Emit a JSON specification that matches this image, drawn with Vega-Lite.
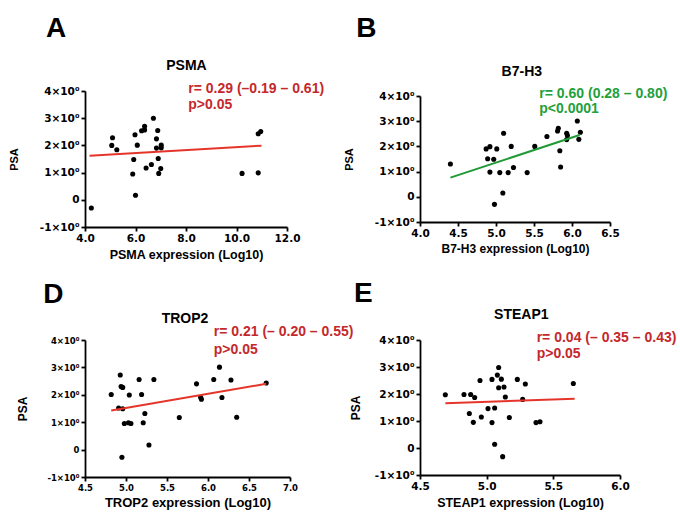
{
  "$schema": "https://vega.github.io/schema/vega-lite/v6.json",
  "padding": {"left": 8, "top": 14, "right": 5, "bottom": 5},
  "background": "white",
  "config": {
    "font": "Liberation Sans",
    "view": {"stroke": null},
    "axis": {
      "grid": false,
      "domainColor": "black",
      "domainWidth": 1.8,
      "tickColor": "black",
      "tickWidth": 1.8,
      "tickSize": 4,
      "labelColor": "black",
      "labelFont": "DejaVu Sans",
      "labelFontWeight": "bold",
      "labelFontSize": 10.5,
      "labelPadding": 2,
      "labelFlush": false,
      "labelOverlap": false,
      "titleColor": "black",
      "titleFontWeight": "bold",
      "titleFontSize": 12.5
    },
    "axisY": {"titleFontSize": 11, "titlePadding": 20},
    "axisX": {"titlePadding": 5}
  },
  "datasets": {
    "points": [
      {"panel": "A", "expr": 4.25, "psa": -0.30},
      {"panel": "A", "expr": 5.09, "psa": 2.28},
      {"panel": "A", "expr": 5.06, "psa": 2.00},
      {"panel": "A", "expr": 5.26, "psa": 1.84},
      {"panel": "A", "expr": 5.89, "psa": 0.95},
      {"panel": "A", "expr": 5.93, "psa": 1.48},
      {"panel": "A", "expr": 6.00, "psa": 0.17},
      {"panel": "A", "expr": 5.98, "psa": 2.39},
      {"panel": "A", "expr": 6.07, "psa": 2.01},
      {"panel": "A", "expr": 6.24, "psa": 2.54},
      {"panel": "A", "expr": 6.36, "psa": 2.57},
      {"panel": "A", "expr": 6.36, "psa": 2.70},
      {"panel": "A", "expr": 6.42, "psa": 1.17},
      {"panel": "A", "expr": 6.63, "psa": 1.30},
      {"panel": "A", "expr": 6.71, "psa": 3.00},
      {"panel": "A", "expr": 6.88, "psa": 2.55},
      {"panel": "A", "expr": 6.83, "psa": 2.24},
      {"panel": "A", "expr": 6.83, "psa": 1.90},
      {"panel": "A", "expr": 6.90, "psa": 1.52},
      {"panel": "A", "expr": 6.92, "psa": 0.97},
      {"panel": "A", "expr": 7.02, "psa": 1.91},
      {"panel": "A", "expr": 7.02, "psa": 2.01},
      {"panel": "A", "expr": 7.00, "psa": 1.15},
      {"panel": "A", "expr": 10.22, "psa": 0.97},
      {"panel": "A", "expr": 10.86, "psa": 0.99},
      {"panel": "A", "expr": 10.86, "psa": 2.43},
      {"panel": "A", "expr": 10.96, "psa": 2.51},
      {"panel": "B", "expr": 4.40, "psa": 1.30},
      {"panel": "B", "expr": 4.87, "psa": 1.90},
      {"panel": "B", "expr": 4.92, "psa": 1.99},
      {"panel": "B", "expr": 4.89, "psa": 1.51},
      {"panel": "B", "expr": 4.97, "psa": 1.49},
      {"panel": "B", "expr": 4.92, "psa": 0.98},
      {"panel": "B", "expr": 5.01, "psa": 1.90},
      {"panel": "B", "expr": 5.10, "psa": 2.52},
      {"panel": "B", "expr": 4.98, "psa": -0.30},
      {"panel": "B", "expr": 5.09, "psa": 0.15},
      {"panel": "B", "expr": 5.05, "psa": 0.96},
      {"panel": "B", "expr": 5.16, "psa": 0.96},
      {"panel": "B", "expr": 5.20, "psa": 2.00},
      {"panel": "B", "expr": 5.23, "psa": 1.16},
      {"panel": "B", "expr": 5.41, "psa": 0.96},
      {"panel": "B", "expr": 5.51, "psa": 2.00},
      {"panel": "B", "expr": 5.67, "psa": 2.39},
      {"panel": "B", "expr": 5.81, "psa": 2.61},
      {"panel": "B", "expr": 5.82, "psa": 2.72},
      {"panel": "B", "expr": 5.84, "psa": 1.83},
      {"panel": "B", "expr": 5.85, "psa": 1.18},
      {"panel": "B", "expr": 5.93, "psa": 2.52},
      {"panel": "B", "expr": 5.94, "psa": 2.43},
      {"panel": "B", "expr": 5.93, "psa": 2.27},
      {"panel": "B", "expr": 6.07, "psa": 3.01},
      {"panel": "B", "expr": 6.09, "psa": 2.28},
      {"panel": "B", "expr": 6.11, "psa": 2.56},
      {"panel": "D", "expr": 4.82, "psa": 2.01},
      {"panel": "D", "expr": 4.91, "psa": 1.52},
      {"panel": "D", "expr": 4.93, "psa": 2.72},
      {"panel": "D", "expr": 4.94, "psa": 2.30},
      {"panel": "D", "expr": 4.96, "psa": 2.27},
      {"panel": "D", "expr": 4.96, "psa": 1.49},
      {"panel": "D", "expr": 4.95, "psa": -0.28},
      {"panel": "D", "expr": 4.98, "psa": 0.95},
      {"panel": "D", "expr": 5.03, "psa": 0.98},
      {"panel": "D", "expr": 5.06, "psa": 0.95},
      {"panel": "D", "expr": 5.04, "psa": 1.99},
      {"panel": "D", "expr": 5.16, "psa": 2.56},
      {"panel": "D", "expr": 5.19, "psa": 2.01},
      {"panel": "D", "expr": 5.21, "psa": 0.98},
      {"panel": "D", "expr": 5.23, "psa": 1.32},
      {"panel": "D", "expr": 5.28, "psa": 0.17},
      {"panel": "D", "expr": 5.34, "psa": 2.56},
      {"panel": "D", "expr": 5.65, "psa": 1.17},
      {"panel": "D", "expr": 5.86, "psa": 2.40},
      {"panel": "D", "expr": 5.91, "psa": 1.91},
      {"panel": "D", "expr": 5.92, "psa": 1.84},
      {"panel": "D", "expr": 6.07, "psa": 2.56},
      {"panel": "D", "expr": 6.14, "psa": 3.01},
      {"panel": "D", "expr": 6.17, "psa": 1.90},
      {"panel": "D", "expr": 6.28, "psa": 2.54},
      {"panel": "D", "expr": 6.35, "psa": 1.18},
      {"panel": "D", "expr": 6.71, "psa": 2.43},
      {"panel": "E", "expr": 4.69, "psa": 1.97},
      {"panel": "E", "expr": 4.83, "psa": 1.98},
      {"panel": "E", "expr": 4.88, "psa": 1.98},
      {"panel": "E", "expr": 4.91, "psa": 1.87},
      {"panel": "E", "expr": 4.87, "psa": 1.28},
      {"panel": "E", "expr": 4.90, "psa": 0.95},
      {"panel": "E", "expr": 4.95, "psa": 2.50},
      {"panel": "E", "expr": 4.96, "psa": 1.15},
      {"panel": "E", "expr": 5.01, "psa": 1.46},
      {"panel": "E", "expr": 5.04, "psa": 2.54},
      {"panel": "E", "expr": 5.04, "psa": 0.94},
      {"panel": "E", "expr": 5.06, "psa": 1.48},
      {"panel": "E", "expr": 5.06, "psa": 0.14},
      {"panel": "E", "expr": 5.08, "psa": 2.70},
      {"panel": "E", "expr": 5.09, "psa": 2.98},
      {"panel": "E", "expr": 5.09, "psa": 2.23},
      {"panel": "E", "expr": 5.11, "psa": 2.55},
      {"panel": "E", "expr": 5.13, "psa": 2.26},
      {"panel": "E", "expr": 5.12, "psa": -0.32},
      {"panel": "E", "expr": 5.14, "psa": 1.89},
      {"panel": "E", "expr": 5.17, "psa": 1.13},
      {"panel": "E", "expr": 5.23, "psa": 2.54},
      {"panel": "E", "expr": 5.27, "psa": 1.80},
      {"panel": "E", "expr": 5.29, "psa": 2.37},
      {"panel": "E", "expr": 5.37, "psa": 0.94},
      {"panel": "E", "expr": 5.40, "psa": 0.97},
      {"panel": "E", "expr": 5.65, "psa": 2.39}
    ],
    "fits": [
      {"panel": "A", "expr": 4.18, "psa": 1.62},
      {"panel": "A", "expr": 10.99, "psa": 1.99},
      {"panel": "B", "expr": 4.40, "psa": 0.76},
      {"panel": "B", "expr": 6.10, "psa": 2.45},
      {"panel": "D", "expr": 4.82, "psa": 1.43},
      {"panel": "D", "expr": 6.71, "psa": 2.40},
      {"panel": "E", "expr": 4.69, "psa": 1.66},
      {"panel": "E", "expr": 5.66, "psa": 1.82}
    ],
    "notes": [
      {"panel": "A", "kind": "letter", "expr": 2.46, "psa": 5.99, "text": "A"},
      {"panel": "A", "kind": "heading", "expr": 8.02, "psa": 4.77, "text": "PSMA"},
      {"panel": "A", "kind": "stat", "expr": 8.09, "psa": 3.92, "text": "r= 0.29 (–0.19 – 0.61)"},
      {"panel": "A", "kind": "stat", "expr": 8.09, "psa": 3.33, "text": "p>0.05"},
      {"panel": "B", "kind": "letter", "expr": 3.16, "psa": 6.34, "text": "B"},
      {"panel": "B", "kind": "heading", "expr": 5.34, "psa": 4.79, "text": "B7-H3"},
      {"panel": "B", "kind": "stat", "expr": 5.57, "psa": 3.93, "text": "r= 0.60 (0.28 – 0.80)"},
      {"panel": "B", "kind": "stat", "expr": 5.57, "psa": 3.34, "text": "p<0.0001"},
      {"panel": "D", "kind": "letter", "expr": 3.99, "psa": 5.35, "text": "D"},
      {"panel": "D", "kind": "heading", "expr": 5.72, "psa": 4.63, "text": "TROP2"},
      {"panel": "D", "kind": "stat", "expr": 6.07, "psa": 4.15, "text": "r= 0.21 (– 0.20 – 0.55)"},
      {"panel": "D", "kind": "stat", "expr": 6.07, "psa": 3.49, "text": "p>0.05"},
      {"panel": "E", "kind": "letter", "expr": 4.005, "psa": 5.41, "text": "E"},
      {"panel": "E", "kind": "heading", "expr": 5.26, "psa": 4.78, "text": "STEAP1"},
      {"panel": "E", "kind": "stat", "expr": 5.375, "psa": 3.91, "text": "r= 0.04 (– 0.35 – 0.43)"},
      {"panel": "E", "kind": "stat", "expr": 5.375, "psa": 3.32, "text": "p>0.05"}
    ]
  },
  "columns": 2,
  "spacing": {"row": 113, "column": 130},
  "bounds": "flush",
  "center": {"row": true, "column": false},
  "concat": [
    {
      "width": 202,
      "height": 136,
      "encoding": {
        "x": {"field": "expr", "type": "quantitative", "scale": {"domain": [4, 12], "nice": false, "zero": false}, "axis": {"values": [4, 6, 8, 10, 12], "format": ".1f", "title": "PSMA expression (Log10)"}},
        "y": {"field": "psa", "type": "quantitative", "scale": {"domain": [-1, 4], "nice": false}, "axis": {"values": [-1, 0, 1, 2, 3, 4], "labelExpr": "datum.value == 0 ? '0' : datum.value + '×10⁰'", "title": "PSA"}}
      },
      "layer": [
        {"data": {"name": "points"}, "transform": [{"filter": "datum.panel == 'A'"}], "mark": {"type": "circle", "size": 26, "color": "black", "opacity": 1}},
        {"data": {"name": "fits"}, "transform": [{"filter": "datum.panel == 'A'"}], "mark": {"type": "line", "color": "#e5352b", "strokeWidth": 2}},
        {"data": {"name": "notes"}, "transform": [{"filter": "datum.panel == 'A' && datum.kind == 'stat'"}], "mark": {"type": "text", "align": "left", "baseline": "alphabetic", "fontSize": 14, "fontWeight": "bold", "color": "#c4282b"}, "encoding": {"text": {"field": "text"}}},
        {"data": {"name": "notes"}, "transform": [{"filter": "datum.panel == 'A' && datum.kind == 'heading'"}], "mark": {"type": "text", "align": "center", "baseline": "alphabetic", "fontSize": 14, "fontWeight": "bold", "color": "black"}, "encoding": {"text": {"field": "text"}}},
        {"data": {"name": "notes"}, "transform": [{"filter": "datum.panel == 'A' && datum.kind == 'letter'"}], "mark": {"type": "text", "align": "left", "baseline": "alphabetic", "fontSize": 28, "fontWeight": "bold", "color": "black"}, "encoding": {"text": {"field": "text"}}}
      ]
    },
    {
      "width": 190,
      "height": 126,
      "encoding": {
        "x": {"field": "expr", "type": "quantitative", "scale": {"domain": [4, 6.5], "nice": false, "zero": false}, "axis": {"values": [4, 4.5, 5, 5.5, 6, 6.5], "format": ".1f", "title": "B7-H3 expression (Log10)", "titleFontSize": 12}},
        "y": {"field": "psa", "type": "quantitative", "scale": {"domain": [-1, 4], "nice": false}, "axis": {"values": [-1, 0, 1, 2, 3, 4], "labelExpr": "datum.value == 0 ? '0' : datum.value + '×10⁰'", "title": "PSA"}}
      },
      "layer": [
        {"data": {"name": "points"}, "transform": [{"filter": "datum.panel == 'B'"}], "mark": {"type": "circle", "size": 26, "color": "black", "opacity": 1}},
        {"data": {"name": "fits"}, "transform": [{"filter": "datum.panel == 'B'"}], "mark": {"type": "line", "color": "#1f9a35", "strokeWidth": 2}},
        {"data": {"name": "notes"}, "transform": [{"filter": "datum.panel == 'B' && datum.kind == 'stat'"}], "mark": {"type": "text", "align": "left", "baseline": "alphabetic", "fontSize": 14, "fontWeight": "bold", "color": "#22a03c"}, "encoding": {"text": {"field": "text"}}},
        {"data": {"name": "notes"}, "transform": [{"filter": "datum.panel == 'B' && datum.kind == 'heading'"}], "mark": {"type": "text", "align": "center", "baseline": "alphabetic", "fontSize": 14, "fontWeight": "bold", "color": "black"}, "encoding": {"text": {"field": "text"}}},
        {"data": {"name": "notes"}, "transform": [{"filter": "datum.panel == 'B' && datum.kind == 'letter'"}], "mark": {"type": "text", "align": "left", "baseline": "alphabetic", "fontSize": 28, "fontWeight": "bold", "color": "black"}, "encoding": {"text": {"field": "text"}}}
      ]
    },
    {
      "width": 205,
      "height": 137,
      "encoding": {
        "x": {"field": "expr", "type": "quantitative", "scale": {"domain": [4.5, 7], "nice": false, "zero": false}, "axis": {"values": [4.5, 5, 5.5, 6, 6.5, 7], "format": ".1f", "title": "TROP2 expression (Log10)", "labelFontSize": 8.5, "titleFontSize": 13}},
        "y": {"field": "psa", "type": "quantitative", "scale": {"domain": [-1, 4], "nice": false}, "axis": {"values": [-1, 0, 1, 2, 3, 4], "labelExpr": "datum.value == 0 ? '0' : datum.value + '×10⁰'", "title": "PSA", "labelFontSize": 8.5, "titleFontSize": 12, "titlePadding": 17}}
      },
      "layer": [
        {"data": {"name": "points"}, "transform": [{"filter": "datum.panel == 'D'"}], "mark": {"type": "circle", "size": 26, "color": "black", "opacity": 1}},
        {"data": {"name": "fits"}, "transform": [{"filter": "datum.panel == 'D'"}], "mark": {"type": "line", "color": "#e5352b", "strokeWidth": 2}},
        {"data": {"name": "notes"}, "transform": [{"filter": "datum.panel == 'D' && datum.kind == 'stat'"}], "mark": {"type": "text", "align": "left", "baseline": "alphabetic", "fontSize": 14, "fontWeight": "bold", "color": "#c4282b"}, "encoding": {"text": {"field": "text"}}},
        {"data": {"name": "notes"}, "transform": [{"filter": "datum.panel == 'D' && datum.kind == 'heading'"}], "mark": {"type": "text", "align": "center", "baseline": "alphabetic", "fontSize": 14, "fontWeight": "bold", "color": "black"}, "encoding": {"text": {"field": "text"}}},
        {"data": {"name": "notes"}, "transform": [{"filter": "datum.panel == 'D' && datum.kind == 'letter'"}], "mark": {"type": "text", "align": "left", "baseline": "alphabetic", "fontSize": 28, "fontWeight": "bold", "color": "black"}, "encoding": {"text": {"field": "text"}}}
      ]
    },
    {
      "width": 200,
      "height": 135,
      "encoding": {
        "x": {"field": "expr", "type": "quantitative", "scale": {"domain": [4.5, 6], "nice": false, "zero": false}, "axis": {"values": [4.5, 5, 5.5, 6], "format": ".1f", "title": "STEAP1 expression (Log10)"}},
        "y": {"field": "psa", "type": "quantitative", "scale": {"domain": [-1, 4], "nice": false}, "axis": {"values": [-1, 0, 1, 2, 3, 4], "labelExpr": "datum.value == 0 ? '0' : datum.value + '×10⁰'", "title": "PSA", "titleFontSize": 12, "titlePadding": 12}}
      },
      "layer": [
        {"data": {"name": "points"}, "transform": [{"filter": "datum.panel == 'E'"}], "mark": {"type": "circle", "size": 26, "color": "black", "opacity": 1}},
        {"data": {"name": "fits"}, "transform": [{"filter": "datum.panel == 'E'"}], "mark": {"type": "line", "color": "#e5352b", "strokeWidth": 2}},
        {"data": {"name": "notes"}, "transform": [{"filter": "datum.panel == 'E' && datum.kind == 'stat'"}], "mark": {"type": "text", "align": "left", "baseline": "alphabetic", "fontSize": 14, "fontWeight": "bold", "color": "#c4282b"}, "encoding": {"text": {"field": "text"}}},
        {"data": {"name": "notes"}, "transform": [{"filter": "datum.panel == 'E' && datum.kind == 'heading'"}], "mark": {"type": "text", "align": "center", "baseline": "alphabetic", "fontSize": 14, "fontWeight": "bold", "color": "black"}, "encoding": {"text": {"field": "text"}}},
        {"data": {"name": "notes"}, "transform": [{"filter": "datum.panel == 'E' && datum.kind == 'letter'"}], "mark": {"type": "text", "align": "left", "baseline": "alphabetic", "fontSize": 28, "fontWeight": "bold", "color": "black"}, "encoding": {"text": {"field": "text"}}}
      ]
    }
  ]
}
